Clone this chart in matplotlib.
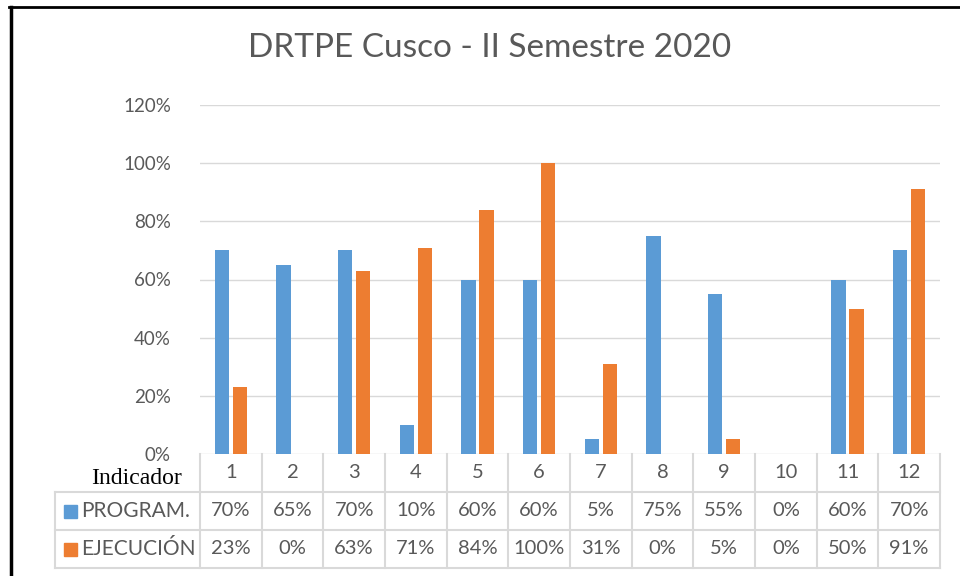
import matplotlib
matplotlib.use("Agg")
import matplotlib.pyplot as plt
from matplotlib.lines import Line2D
from matplotlib.patches import Rectangle
import matplotlib.transforms as mtransforms

indicadores = ["1", "2", "3", "4", "5", "6", "7", "8", "9", "10", "11", "12"]
programado = [70, 65, 70, 10, 60, 60, 5, 75, 55, 0, 60, 70]
ejecucion = [23, 0, 63, 71, 84, 100, 31, 0, 5, 0, 50, 91]
series_names = ["PROGRAM.", "EJECUCIÓN"]
yticks = [0, 20, 40, 60, 80, 100, 120]

BLUE = "#5B9BD5"
ORANGE = "#ED7D31"
GREY_TXT = "#595959"
GRID = "#D9D9D9"
FONT = "Lato"

fig = plt.figure(figsize=(9.6, 5.76), dpi=100)
ax = fig.add_axes([200 / 960, 1 - 454 / 576, 740 / 960, 349 / 576])

x = list(range(1, len(indicadores) + 1))
w = 0.23
gap = 0.03
ax.bar([i - w / 2 - gap for i in x], programado, width=w, color=BLUE)
ax.bar([i + w / 2 + gap for i in x], ejecucion, width=w, color=ORANGE)

ax.set_xlim(0.5, len(indicadores) + 0.5)
ax.set_ylim(0, 120)
ax.set_yticks(yticks)
ax.set_yticklabels([f"{t}%" for t in yticks], family=FONT, fontsize=13.5, color=GREY_TXT)
ax.tick_params(axis="y", length=0, pad=21)
ax.set_xticks([])
for s in ax.spines.values():
    s.set_visible(False)
ax.yaxis.grid(True, color=GRID, linewidth=1)
ax.set_axisbelow(True)

fig.text(490 / 960, 1 - 48 / 576, "DRTPE Cusco - II Semestre 2020",
         ha="center", va="center", family=FONT, fontsize=24, color=GREY_TXT)

# data table under the axis
blend = mtransforms.blended_transform_factory(ax.transData, ax.transAxes)
h_px = 349.0
r0 = 0.0
r1 = -(492 - 454) / h_px
r2 = -(530 - 454) / h_px
r3 = -(568 - 454) / h_px
left_ax = (55 - 200) / 740
line_kw = dict(color=GRID, linewidth=1.5, clip_on=False)

edges = [i + 0.5 for i in range(0, len(indicadores) + 1)]
for e in edges:
    ax.add_line(Line2D([e, e], [r0, r3], transform=blend, **line_kw))
for r in (r1, r2, r3):
    ax.add_line(Line2D([left_ax, 1], [r, r], transform=ax.transAxes, **line_kw))
ax.add_line(Line2D([left_ax, left_ax], [r1, r3], transform=ax.transAxes, **line_kw))

txt_kw = dict(ha="center", va="center", family=FONT, fontsize=14.5, color=GREY_TXT,
              transform=blend, clip_on=False)
for i, lab in zip(x, indicadores):
    ax.text(i, (r0 + r1) / 2, lab, **txt_kw)
for i, p, e in zip(x, programado, ejecucion):
    ax.text(i, (r1 + r2) / 2, f"{p}%", **txt_kw)
    ax.text(i, (r2 + r3) / 2, f"{e}%", **txt_kw)

ax.text((136 - 200) / 740, -(478 - 454) / h_px, "Indicador", transform=ax.transAxes,
        ha="center", va="center", family="Liberation Serif", fontsize=17, color="black")

sq = 13 / 960
for k, (name, col) in enumerate(zip(series_names, [BLUE, ORANGE])):
    yc = 1 - (511 + 38 * k) / 576
    fig.patches.append(Rectangle((64 / 960, yc - 6.5 / 576), sq, 13 / 576,
                                 transform=fig.transFigure, color=col))
    fig.text(81 / 960, yc, name, ha="left", va="center", family=FONT,
             fontsize=15, color=GREY_TXT)

# black frame on left and top edges
fig.add_artist(Line2D([10.5 / 960, 10.5 / 960], [0, 1 - 7 / 576], color="black",
                      linewidth=2.5, transform=fig.transFigure))
fig.add_artist(Line2D([9.3 / 960, 1], [1 - 7 / 576, 1 - 7 / 576], color="black",
                      linewidth=2, transform=fig.transFigure))

fig.savefig("out.png", dpi=100, facecolor="white")
